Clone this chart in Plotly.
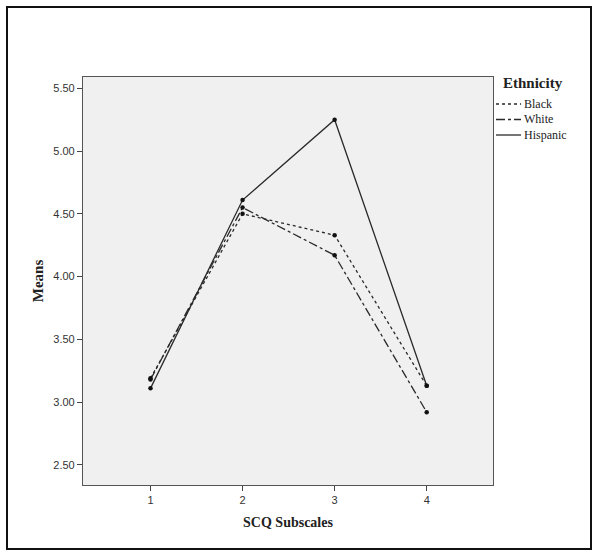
import plotly.graph_objects as go

subscales = [1, 2, 3, 4]
black = [3.19, 4.50, 4.33, 3.13]
white = [3.18, 4.55, 4.17, 2.92]
hispanic = [3.11, 4.61, 5.25, 3.13]
y_ticks = [2.5, 3.0, 3.5, 4.0, 4.5, 5.0, 5.5]
groups = ["Black", "White", "Hispanic"]
dashes = ["dot", "dashdot", "solid"]

series = list(zip(groups, [black, white, hispanic], dashes))

fig = go.Figure()
lc = "#2a2a2a"
for name, vals, dash in series:
    fig.add_trace(go.Scatter(x=subscales, y=vals, mode="lines", name=name, showlegend=False,
                             line=dict(color=lc, width=1.3, dash=dash)))
for name, vals, dash in series:
    fig.add_trace(go.Scatter(x=subscales, y=vals, mode="markers", showlegend=False,
                             marker=dict(color="#111", size=4.5)))

L, R, T, B = 83, 493, 77, 485
W, H = 600, 560

def px(x):
    return (x - L) / (R - L)

def py(y):
    return (B - y) / (B - T)

fig.add_shape(type="rect", xref="paper", yref="paper",
              x0=px(7), x1=px(591), y0=py(549), y1=py(7),
              line=dict(color="#111", width=2), layer="below")

# manual legend
fig.add_annotation(xref="paper", yref="paper", x=px(533), y=py(83), text="<b>Ethnicity</b>",
                   showarrow=False, xanchor="center", yanchor="middle",
                   font=dict(family="Liberation Serif", size=15, color="#222"))
for i, (name, dash) in enumerate(zip(groups, dashes)):
    yy = 104 + i * 15.5
    fig.add_shape(type="line", xref="paper", yref="paper",
                  x0=px(496), x1=px(521), y0=py(yy), y1=py(yy),
                  line=dict(color=lc, width=1.3, dash=dash))
    fig.add_annotation(xref="paper", yref="paper", x=px(522), y=py(yy), text=name,
                       showarrow=False, xanchor="left", yanchor="middle",
                       font=dict(family="Liberation Serif", size=12, color="#222"))

fig.update_layout(
    width=W, height=H,
    margin=dict(l=L, r=W - R, t=T, b=H - B),
    paper_bgcolor="white", plot_bgcolor="#F0F0F0",
    showlegend=False,
    xaxis=dict(range=[0.267, 4.72], tickvals=subscales, ticktext=[str(s) for s in subscales],
               ticks="outside", ticklen=5, tickcolor="#444", showgrid=False, zeroline=False,
               showline=True, linecolor="#555", linewidth=1.2, mirror=True,
               tickfont=dict(family="Liberation Sans", size=11, color="#333"),
               title=dict(text="<b>SCQ Subscales</b>", standoff=11,
                          font=dict(family="Liberation Serif", size=14, color="#222"))),
    yaxis=dict(range=[2.34, 5.59], tickvals=y_ticks, tickformat=".2f",
               ticks="outside", ticklen=5, tickcolor="#444", showgrid=False, zeroline=False,
               showline=True, linecolor="#555", linewidth=1.2, mirror=True,
               tickfont=dict(family="Liberation Sans", size=11, color="#333"),
               title=dict(text="<b>Means</b>", standoff=6,
                          font=dict(family="Liberation Serif", size=15, color="#222"))),
)

fig.write_html("out.html", config={"displayModeBar": False},
               post_script="document.body.style.margin='0';")
